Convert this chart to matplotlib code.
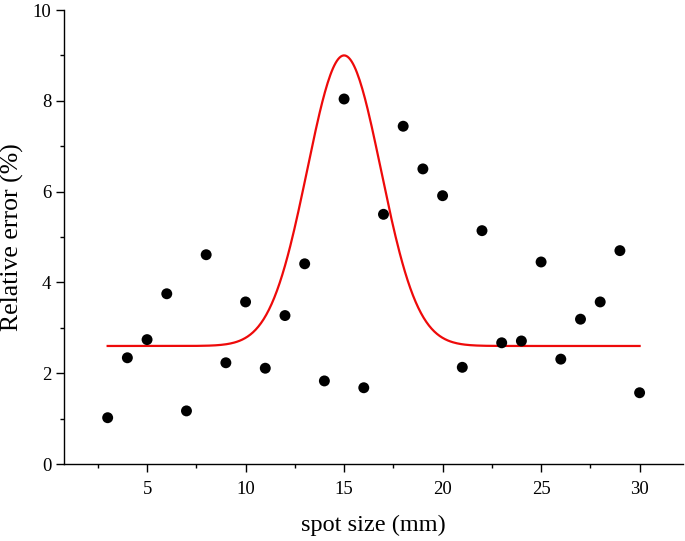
#!/usr/bin/env python3
"""Relative error vs spot size, with Gaussian fit"""

import numpy as np
import matplotlib
matplotlib.use('Agg')
import matplotlib.pyplot as plt
from matplotlib.ticker import MultipleLocator

spot_size = [3, 4, 5, 6, 7, 8, 9, 10, 11, 12, 13, 14, 15, 16,
             17, 18, 19, 20, 21, 22, 23, 24, 25, 26, 27, 28, 29, 30]
rel_error = [1.02, 2.34, 2.74, 3.75, 1.17, 4.61, 2.23, 3.57, 2.11, 3.27,
             4.41, 1.83, 8.04, 1.68, 5.50, 7.44, 6.50, 5.91, 2.13, 5.14,
             2.67, 2.71, 4.45, 2.31, 3.19, 3.57, 4.70, 1.57]

# Gaussian fit parameters (baseline, peak height, centre, sigma)
fit_y0 = 2.6
fit_peak = 9.0
fit_xc = 15.0
fit_sigma = 1.87
fit_range = (3, 30)

plt.rcParams['font.family'] = ['Liberation Serif', 'DejaVu Serif']

fig = plt.figure(figsize=(6.85, 5.41), dpi=100)
ax = fig.add_axes([0.0939, 0.1423, 0.9031, 0.8392])

x_fit = np.linspace(fit_range[0], fit_range[1], 400)
y_fit = fit_y0 + (fit_peak - fit_y0) * np.exp(-(x_fit - fit_xc) ** 2 / (2 * fit_sigma ** 2))
ax.plot(x_fit, y_fit, color='#ee0a0a', linewidth=1.6, zorder=2)
ax.scatter(spot_size, rel_error, s=62, color='black', edgecolors='none', zorder=3)

ax.set_xlim(0.8, 32.2)
ax.set_ylim(0, 10)
ax.xaxis.set_major_locator(MultipleLocator(5))
ax.xaxis.set_minor_locator(MultipleLocator(2.5))
ax.yaxis.set_major_locator(MultipleLocator(2))
ax.yaxis.set_minor_locator(MultipleLocator(1))

for side in ('top', 'right'):
  ax.spines[side].set_visible(False)
for side in ('left', 'bottom'):
  ax.spines[side].set_linewidth(1.0)

ax.tick_params(which='major', direction='out', length=6, width=1.0, labelsize=13.5)
ax.tick_params(axis='x', which='major', pad=6)
ax.tick_params(which='minor', direction='out', length=3, width=1.0)

ax.set_xlabel('spot size (mm)', fontsize=17.5, labelpad=12)
ax.set_ylabel('Relative error (%)', fontsize=18.5, labelpad=6)

fig.savefig('out.png', dpi=100)
